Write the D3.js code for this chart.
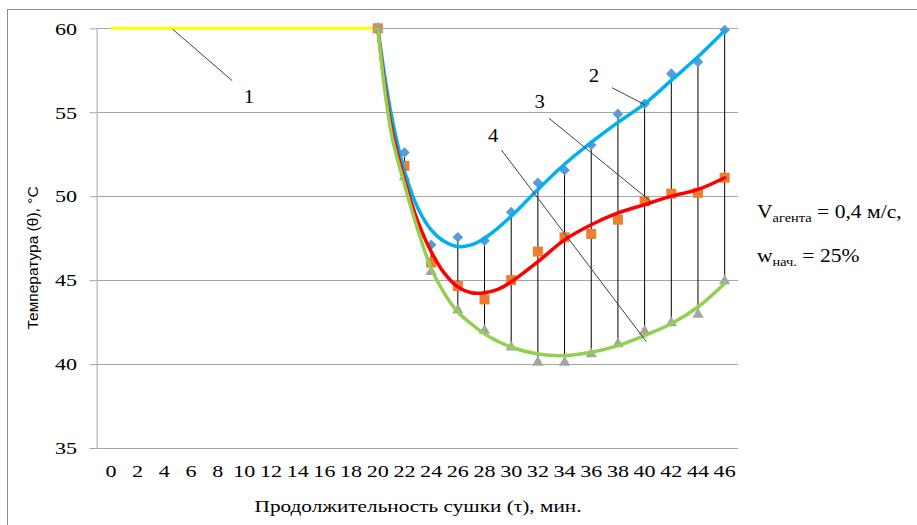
<!DOCTYPE html>
<html><head><meta charset="utf-8">
<script src="https://cdn.jsdelivr.net/npm/d3@7"></script>
<style>body{margin:0;background:#fff}svg{display:block}</style>
</head><body>
<svg id="c" width="917" height="525"></svg>
<script>
(function(){
// ---- data ----
const categories = [0,2,4,6,8,10,12,14,16,18,20,22,24,26,28,30,32,34,36,38,40,42,44,46];
const yTicks = [35,40,45,50,55,60];
const s1Times = [0,2,4,6,8,10,12,14,16,18,20];
const s1Values = [60,60,60,60,60,60,60,60,60,60,60];
const sTimes = [20,22,24,26,28,30,32,34,36,38,40,42,44,46];
const s2Values = [60,52.6,47.1,47.55,47.35,49.05,50.8,51.55,53.05,54.9,55.5,57.3,58.0,59.9];
const s3Values = [60,51.8,46.05,44.65,43.85,45.0,46.7,47.55,47.75,48.6,49.7,50.15,50.2,51.1];
const s4Values = [60,51.15,45.5,43.2,42.0,41.0,40.1,40.1,40.6,41.2,41.95,42.45,42.95,44.95];
// fitted (trend) curves
const curveTimes = [20,21,22,23,24,25,26,27,28,29,30,32,34,36,38,40,42,44,46];
const c2Values = [60,54.9,51.5,49.3,48.0,47.3,47.0,47.1,47.5,48.1,48.8,50.4,51.9,53.2,54.4,55.5,56.9,58.3,59.85];
const c3Values = [60,54.2,51.0,48.5,46.7,45.4,44.6,44.25,44.25,44.45,44.9,46.1,47.4,48.3,49.0,49.5,50.0,50.4,51.1];
const c4Values = [60,53.8,50.7,48.0,45.7,44.2,43.1,42.4,41.8,41.35,41.0,40.6,40.5,40.7,41.1,41.7,42.4,43.4,44.8];
// annotation leader lines in data units [t1,v1,t2,v2], labels [t,v]
const leaderLabels = ["1","2","3","4"];
const leaderLines = [[4.63,59.94,9.09,56.88],[37.56,56.46,40.06,55.43],[32.84,54.64,40.63,49.58],[29.27,52.75,40.13,41.33]];
const leaderPos = [[10.34,55.9],[36.2,57.2],[32.14,55.63],[28.64,53.6]];
const xTitle = "Продолжительность сушки (τ), мин.";
const yTitle = "Температура  (θ), °С";

// ---- drawing ----
const svg = d3.select("#c");
const pL = 97.6, pR = 738, pT = 28.3, pB = 448;
const xb = d3.scaleBand().domain(categories).range([pL, pR]).padding(0);
const bw = xb.bandwidth();
const x = d3.scaleLinear().domain([0,46]).range([xb(0)+bw/2, xb(46)+bw/2]);
const y = d3.scaleLinear().domain([35,60]).range([pB, pT]);
const serif = "'Liberation Serif','Times New Roman',serif";
const SX = 1.3; // horizontal stretch of the original picture's text

svg.append("rect").attr("x",7.5).attr("y",9.5).attr("width",940).attr("height",540)
  .attr("fill","#fff").attr("stroke","#8c8c8c").attr("stroke-width",1);

// gridlines
svg.append("g").selectAll("line").data(yTicks.filter(d=>d>35)).join("line")
  .attr("x1",pL).attr("x2",pR).attr("y1",d=>Math.round(y(d))+0.5).attr("y2",d=>Math.round(y(d))+0.5)
  .attr("stroke","#a6a6a6").attr("stroke-width",1);

// y axis
const ya = svg.append("g").attr("transform",`translate(${pL},0)`)
  .call(d3.axisLeft(y).tickValues(yTicks).tickSize(8));
ya.select(".domain").attr("stroke","#a6a6a6").attr("d",`M-0.5,${pT}V${pB}`);
ya.selectAll(".tick line").attr("stroke","#a6a6a6");
ya.selectAll("text").attr("font-family",serif).attr("font-size",17).attr("fill","#000")
  .attr("x",0).attr("dy","0.34em").attr("transform",`translate(-20.5,0) scale(${SX},1)`);

// x axis
const xa = svg.append("g").attr("transform",`translate(0,${Math.round(pB)+0.5})`)
  .call(d3.axisBottom(xb).tickSize(0).tickPadding(16));
xa.select(".domain").attr("stroke","#a6a6a6").attr("d",`M${pL},0H${pR}`);
xa.selectAll("text").attr("font-family",serif).attr("font-size",17).attr("fill","#000")
  .attr("transform",`scale(${SX},1)`);

// high-low lines
const hl = sTimes.map((t,i)=>{
  const vals=[s2Values[i],s3Values[i],s4Values[i]];
  return {t, hi:d3.max(vals), lo:d3.min(vals)};
});
svg.append("g").selectAll("line").data(hl).join("line")
  .attr("x1",d=>x(d.t)).attr("x2",d=>x(d.t)).attr("y1",d=>y(d.hi)).attr("y2",d=>y(d.lo))
  .attr("stroke","#000").attr("stroke-width",1);

// series 1 yellow line
svg.append("path").datum(s1Times.map((t,i)=>[t,s1Values[i]]))
  .attr("d",d3.line().x(d=>x(d[0])).y(d=>y(d[1])))
  .attr("fill","none").attr("stroke","#ffff00").attr("stroke-width",3);

// markers
const mk = svg.append("g");
mk.selectAll(".dia").data(sTimes.map((t,i)=>[t,s2Values[i]])).join("path")
  .attr("d",d3.symbol(d3.symbolDiamond2,72)).attr("transform",d=>`translate(${x(d[0])},${y(d[1])})`)
  .attr("fill","#5b9bd5");
mk.selectAll(".sq").data(sTimes.map((t,i)=>[t,s3Values[i]])).join("rect")
  .attr("x",d=>x(d[0])-5).attr("y",d=>y(d[1])-5).attr("width",10).attr("height",10)
  .attr("fill","#ed7d31");
mk.selectAll(".tri").data(sTimes.map((t,i)=>[t,s4Values[i]])).join("path")
  .attr("d",d3.symbol(d3.symbolTriangle,56)).attr("transform",d=>`translate(${x(d[0])},${y(d[1])})`)
  .attr("fill","#a5a5a5");

// trend curves
const cl = d3.line().x(d=>x(d[0])).y(d=>y(d[1])).curve(d3.curveCatmullRom.alpha(0.5));
[[c2Values,"#00b0f0"],[c3Values,"#ff0000"],[c4Values,"#92d050"]].forEach(([vals,col])=>{
  svg.append("path").datum(curveTimes.map((t,i)=>[t,vals[i]])).attr("d",cl)
    .attr("fill","none").attr("stroke",col).attr("stroke-width",3.5).attr("stroke-linecap","round");
});

// leader lines
svg.append("g").selectAll("line").data(leaderLines).join("line")
  .attr("x1",d=>x(d[0])).attr("y1",d=>y(d[1])).attr("x2",d=>x(d[2])).attr("y2",d=>y(d[3]))
  .attr("stroke","#404040").attr("stroke-width",1);
svg.append("g").selectAll("text").data(leaderLabels).join("text")
  .attr("transform",(d,i)=>`translate(${x(leaderPos[i][0])},${y(leaderPos[i][1])}) scale(1.15,1)`)
  .attr("text-anchor","middle").attr("dy","0.35em")
  .attr("font-family",serif).attr("font-size",18).text(d=>d);

// parameter text
const t1 = svg.append("text").attr("transform","translate(757,218) scale(1.2,1)").attr("font-family",serif).attr("font-size",18);
t1.append("tspan").text("V");
t1.append("tspan").attr("font-size",12).attr("dy",4).text("агента");
t1.append("tspan").attr("dy",-4).text(" = 0,4 м/с,");
const t2 = svg.append("text").attr("transform","translate(757,262) scale(1.2,1)").attr("font-family",serif).attr("font-size",18);
t2.append("tspan").text("w");
t2.append("tspan").attr("font-size",12).attr("dy",4).text("нач.");
t2.append("tspan").attr("dy",-4).text(" = 25%");

// axis titles
svg.append("text").attr("transform","translate(418,512) scale(1.25,1)").attr("text-anchor","middle")
  .attr("font-family",serif).attr("font-size",17).text(xTitle);
svg.append("text").attr("transform","translate(38,258) rotate(-90)").attr("text-anchor","middle")
  .attr("font-family","'Liberation Sans',Arial,sans-serif").attr("font-size",15.5).text(yTitle);
})();
</script>
</body></html>
